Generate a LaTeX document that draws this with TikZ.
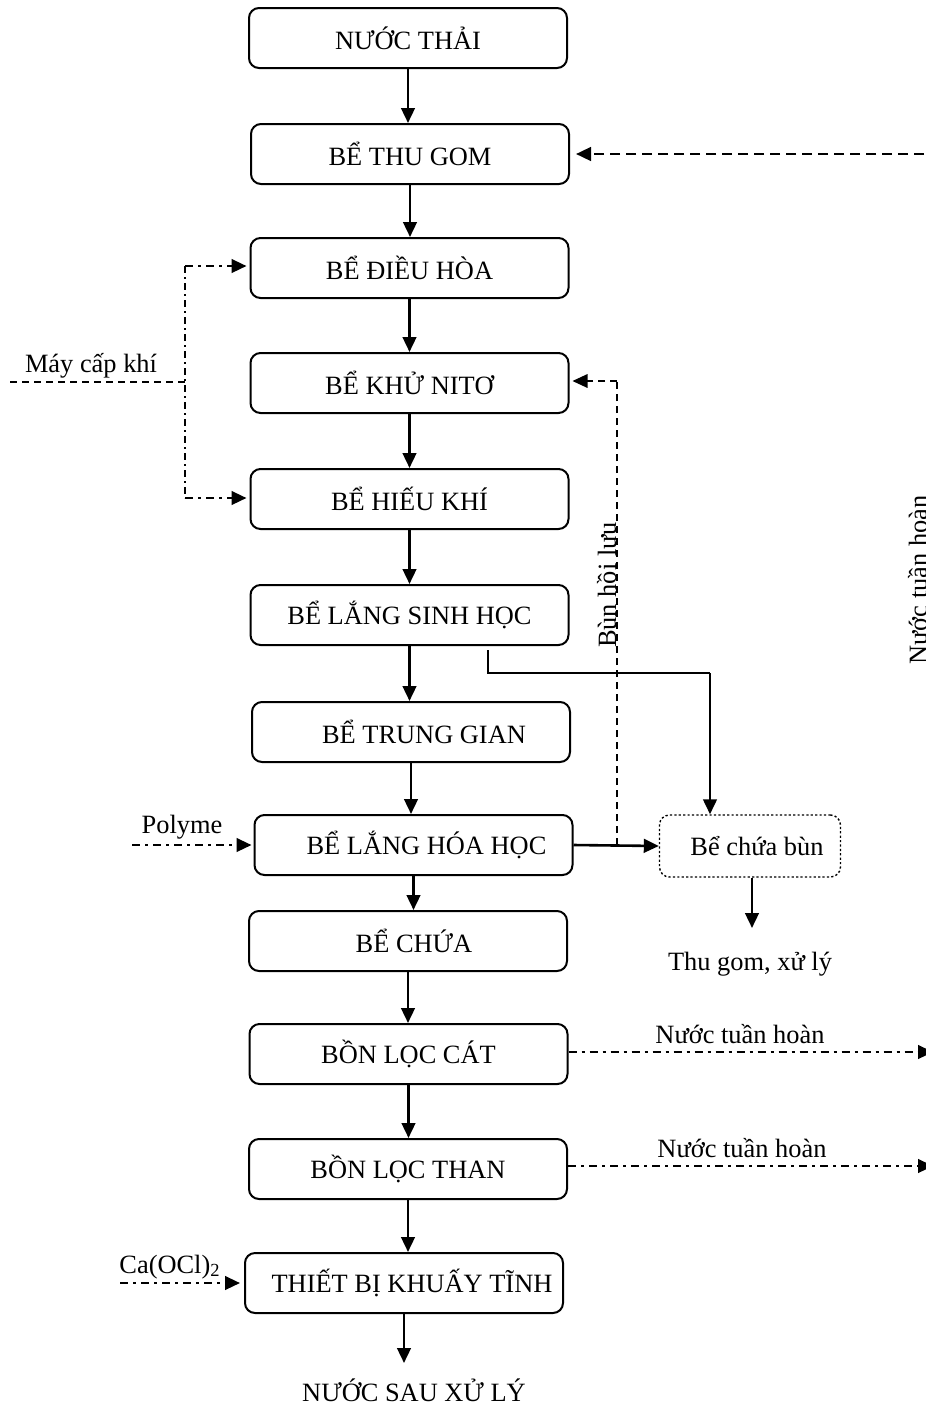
\documentclass[tikz,border=0pt]{standalone}
\usepackage{fontspec}
\setmainfont{Liberation Serif}
\usetikzlibrary{arrows.meta,calc}

\begin{document}
\begin{tikzpicture}[x=0.5pt,y=-0.5pt,
  every node/.style={font=\fontsize{13.2pt}{16pt}\selectfont, inner sep=0pt},
  tank/.style={draw, line width=1pt, rounded corners=5pt,
    minimum width=159pt, minimum height=30pt},
  sludgebox/.style={draw, line width=0.7pt, rounded corners=5pt,
    dash pattern=on 1.1pt off 1.1pt, minimum width=90.5pt, minimum height=31pt},
  tip/.style={-{Triangle[length=7.5pt,width=6.8pt]}},
  flow/.style={tip, line width=1.3pt},
  feedback/.style={tip, line width=1.3pt, dash pattern=on 5pt off 3pt},
  recycle/.style={line width=0.7pt, dash pattern=on 3.5pt off 2.5pt},
  recyclearrow/.style={tip, line width=0.7pt, dash pattern=on 3.5pt off 2.5pt},
  airline/.style={line width=0.7pt, dash pattern=on 3.5pt off 2.5pt},
  airmain/.style={line width=0.7pt, dash pattern=on 3.5pt off 2pt on 1pt off 2pt},
  dosing/.style={tip, line width=1.2pt, dash pattern=on 4pt off 2.5pt on 1.5pt off 2.5pt},
  thinline/.style={line width=0.8pt},
  rotlabel/.style={rotate=90, anchor=base}
]
\useasboundingbox (0,0) rectangle (926,1404);
\clip (0,0) rectangle (926,1404);

% main treatment line
\node[tank] (n1)  at (408,38)    {NƯỚC THẢI};
\node[tank] (n2)  at (410,154)   {BỂ THU GOM};
\node[tank] (n3)  at (409.5,268) {BỂ ĐIỀU HÒA};
\node[tank] (n4)  at (409.5,383) {BỂ KHỬ NITƠ};
\node[tank] (n5)  at (409.5,499) {BỂ HIẾU KHÍ};
\node[tank] (n6)  at (409.5,615) {BỂ LẮNG SINH HỌC};
\node[tank] (n7)  at (411,732)   {\hspace*{13pt}BỂ TRUNG GIAN};
\node[tank] (n8)  at (413.5,845) {\hspace*{13pt}BỂ LẮNG HÓA HỌC};
\node[tank] (n9)  at (408,941)   {\hspace*{6pt}BỂ CHỨA};
\node[tank] (n10) at (408.5,1054){BỒN LỌC CÁT};
\node[tank] (n11) at (408,1169)  {BỒN LỌC THAN};
\node[tank] (n12) at (404,1283)  {\hspace*{8pt}THIẾT BỊ KHUẤY TĨNH};
\node[anchor=base] (out) at (414,1401) {NƯỚC SAU XỬ LÝ};
\coordinate (outtop) at (404,1363);

\foreach \a/\b in {n1/n2,n2/n3,n3/n4,n4/n5,n5/n6,n6/n7,n7/n8,n8/n9,n9/n10,n10/n11,n11/n12}
  \draw[flow] (\a.south) -- (\a.south |- \b.north);
\draw[flow] (n12.south) -- (outtop);

% sludge handling
\node[sludgebox] (bn) at (750,846) {\hspace*{7pt}Bể chứa bùn};
\node[anchor=base] (tg) at (750,970) {Thu gom, xử lý};
\coordinate (tgtop) at (752,928);
\draw[flow] (bn.south -| tgtop) -- (tgtop);
\draw[flow] (n8.east) -- (bn.west);

\coordinate (s0) at (488,650);
\coordinate (s1) at (488,673);
\coordinate (s2) at (710,673);
\draw[thinline] (s0) -- (s1) -- (s2);
\draw[flow] (s2) -- (s2 |- bn.north);

% return sludge
\coordinate (jr) at (617,845);
\coordinate (jt) at (617,381);
\draw[recycle] (jr) -- (jt);
\draw[recyclearrow] (jt) -- ([xshift=1.5pt]n4.east |- jt);
\node[rotlabel] (bhl) at (616,585) {Bùn hồi lưu};

% air supply
\coordinate (mk) at (10,382);
\coordinate (mj) at (185,382);
\coordinate (c3) at (185,266);
\coordinate (c5) at (185,498);
\node[anchor=base] (mkl) at (91,372) {Máy cấp khí};
\draw[airline] (mk) -- (mj);
\draw[airmain] (c3) -- (c5);
\draw[dosing] (c3) -- ([xshift=-1.5pt]n3.west |- c3);
\draw[dosing] (c5) -- ([xshift=-1.5pt]n5.west |- c5);

% chemical dosing
\coordinate (pl) at (132,845);
\node[anchor=base] (ply) at (182,833) {Polyme};
\draw[dosing] (pl) -- ([xshift=-1pt]n8.west);
\coordinate (ca) at (120,1283);
\node[anchor=base] (cal) at (170,1273) {Ca(OCl)\textsubscript{2}};
\draw[dosing] (ca) -- ([xshift=-2pt]n12.west);

% recirculated water
\coordinate (r1) at (933,1052);
\coordinate (r2) at (933,1166);
\draw[dosing] (n10.east |- r1) -- (r1);
\draw[dosing] (n11.east |- r2) -- (r2);
\node[anchor=base] (rl1) at (740,1043) {Nước tuần hoàn};
\node[anchor=base] (rl2) at (742,1157) {Nước tuần hoàn};
\node[rotlabel] (rlv) at (927,580) {Nước tuần hoàn};

% return to collection tank
\coordinate (rt) at (940,154);
\draw[feedback] (rt) -- ([xshift=3pt]n2.east);
\end{tikzpicture}
\end{document}
